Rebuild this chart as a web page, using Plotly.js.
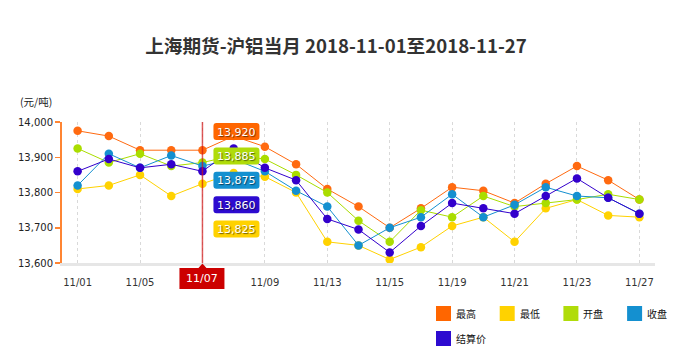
<!DOCTYPE html>
<html><head><meta charset="utf-8">
<script src="https://cdn.plot.ly/plotly-3.0.1.min.js"></script>
<style>html,body{margin:0;padding:0;background:#fff;} #chart{width:682px;height:356px;}</style>
</head><body><div id="chart"></div>
<script>
// ---------- data ----------
const dates = ['11/01','11/02','11/05','11/06','11/07','11/08','11/09','11/12','11/13','11/14',
               '11/15','11/16','11/19','11/20','11/21','11/22','11/23','11/26','11/27'];
const tickLabels = ['11/01','11/05','11/07','11/09','11/13','11/15','11/19','11/21','11/23','11/27'];
const seriesNames = ['最高','最低','开盘','收盘','结算价'];
const high   = [13975,13960,13920,13920,13920,13960,13930,13880,13810,13760,13700,13755,13815,13805,13770,13825,13875,13835,13780];
const low    = [13810,13820,13850,13790,13825,13855,13845,13800,13660,13650,13610,13645,13705,13730,13660,13755,13780,13735,13730];
const open   = [13925,13885,13910,13875,13885,13905,13895,13850,13800,13720,13660,13750,13730,13790,13760,13770,13780,13795,13780];
const close  = [13820,13910,13870,13905,13875,13895,13860,13805,13760,13650,13700,13730,13795,13730,13765,13815,13790,13785,13740];
const settle = [13860,13895,13870,13880,13860,13925,13870,13835,13725,13695,13630,13705,13770,13755,13740,13790,13840,13785,13740];
const yTicks = [13600,13700,13800,13900,14000];
const hoverIndex = 4;
const titleText = '上海期货-沪铝当月 2018-11-01至2018-11-27';
const unitLabel = '(元/吨)';

// ---------- styles ----------
const seriesData = [high, low, open, close, settle];
const lineColors = ['#FF6A10','#FFD200','#AADD00','#1490D0','#3300CC'];
const legendColors = ['#FF6600','#FFD200','#B0DC0A','#1490D0','#2D0BD0'];

const W=682,H=356,L=62,R=27,T=122,B=93;
const PW=W-L-R, PH=H-T-B;
const X = p => (p-L)/PW;
const Y = p => (H-B-p)/PH;
const fmt = v => v.toLocaleString('en-US');

function rrect(x0,y0,x1,y1,r){
  return `M ${X(x0+r)},${Y(y0)} L ${X(x1-r)},${Y(y0)} Q ${X(x1)},${Y(y0)} ${X(x1)},${Y(y0+r)} `+
         `L ${X(x1)},${Y(y1-r)} Q ${X(x1)},${Y(y1)} ${X(x1-r)},${Y(y1)} L ${X(x0+r)},${Y(y1)} `+
         `Q ${X(x0)},${Y(y1)} ${X(x0)},${Y(y1-r)} L ${X(x0)},${Y(y0+r)} Q ${X(x0)},${Y(y0)} ${X(x0+r)},${Y(y0)} Z`;
}

const traces = seriesData.map((d,i)=>({
  type:'scatter', mode:'lines+markers', name:seriesNames[i],
  x:dates, y:d, showlegend:false, cliponaxis:false,
  line:{color:lineColors[i], width:1},
  marker:{color:lineColors[i], size:8.5}
}));

const shapes = [];
const annotations = [];

// hover crosshair
const hx = L + (hoverIndex+0.5)/dates.length*PW;
shapes.push({type:'line', xref:'paper', yref:'paper', x0:X(hx), x1:X(hx), y0:0, y1:1,
  line:{color:'rgba(210,20,20,0.7)', width:1.5}});

// hover value labels, sorted by value
const order = seriesData.map((d,i)=>i).sort((a,b)=>seriesData[b][hoverIndex]-seriesData[a][hoverIndex]);
order.forEach((si,k)=>{
  const top = 123 + k*24.4, h=17;
  shapes.push({type:'path', xref:'paper', yref:'paper', path:rrect(hx+11, top, hx+57, top+h, 3),
    fillcolor:legendColors[si], line:{width:0}});
  annotations.push({xref:'paper', yref:'paper', x:X(hx+34), y:Y(top+h/2+0.5), xanchor:'center', yanchor:'middle',
    showarrow:false, text:fmt(seriesData[si][hoverIndex]),
    font:{family:'DejaVu Sans', size:11, color:'#ffffff', shadow:'1px 1px 1px rgba(0,0,0,0.55)'}});
});

// x hover label box with notch (covers the hovered tick label)
const bx0=hx-23, bx1=hx+22, by0=268, by1=289;
shapes.push({type:'path', xref:'paper', yref:'paper',
  path:`M ${X(bx0)},${Y(by0)} L ${X(hx-4)},${Y(by0)} L ${X(hx)},${Y(263.5)} L ${X(hx+4)},${Y(by0)} L ${X(bx1)},${Y(by0)} L ${X(bx1)},${Y(by1)} L ${X(bx0)},${Y(by1)} Z`,
  fillcolor:'#CC0000', line:{width:0}});
annotations.push({xref:'paper', yref:'paper', x:X((bx0+bx1)/2), y:Y(278.5), xanchor:'center', yanchor:'middle',
  showarrow:false, text:dates[hoverIndex], font:{family:'DejaVu Sans', size:11, color:'#ffffff'}});

// unit label
annotations.push({xref:'paper', yref:'paper', x:X(54), y:Y(101.5), xanchor:'right', yanchor:'middle',
  showarrow:false, text:unitLabel, font:{family:'Noto Sans CJK SC', size:10.5, color:'#222'}});

// legend
seriesNames.forEach((n,i)=>{
  const col=i%4, row=Math.floor(i/4);
  const sx = 436 + col*63.7, sy = 306 + row*25;
  shapes.push({type:'rect', xref:'paper', yref:'paper', x0:X(sx), x1:X(sx+15), y0:Y(sy), y1:Y(sy+15),
    fillcolor:legendColors[i], line:{width:0}});
  annotations.push({xref:'paper', yref:'paper', x:X(sx+18), y:Y(sy+7.5), xanchor:'left', yanchor:'middle',
    showarrow:false, text:n, font:{family:'Noto Sans CJK SC', size:10, color:'#111'}});
});

// tick text: hovered date is shown in the red box instead
const tickText = tickLabels.map(t => t === dates[hoverIndex] ? '' : t);

const layout = {
  width:W, height:H, margin:{l:L, r:R, t:T, b:B},
  paper_bgcolor:'#ffffff', plot_bgcolor:'#ffffff',
  showlegend:false,
  title:{text:'<b>'+titleText+'</b>', xref:'container', yref:'container', x:336/W, y:1-46/H,
    xanchor:'center', yanchor:'middle', font:{family:'Noto Sans CJK SC', size:18.6, color:'#333333'}},
  xaxis:{type:'category', range:[-0.5, dates.length-0.5], tickvals:tickLabels, ticktext:tickText,
    showgrid:true, gridcolor:'#d9d9d9', griddash:'dot', gridwidth:1,
    showline:true, linecolor:'#e6e6e6', linewidth:2.5, ticks:'', ticklabelstandoff:8,
    tickfont:{family:'DejaVu Sans', size:10, color:'#333'}, zeroline:false, fixedrange:true},
  yaxis:{range:[yTicks[0], yTicks[yTicks.length-1]], tickvals:yTicks, tickformat:',',
    showgrid:false, zeroline:false, showline:true, linecolor:'#FF8533', linewidth:2,
    ticks:'outside', ticklen:5, tickwidth:1.5, tickcolor:'#FF8533',
    tickfont:{family:'DejaVu Sans', size:10, color:'#222'}, fixedrange:true},
  shapes:shapes, annotations:annotations, hovermode:false
};

Plotly.newPlot('chart', traces, layout, {displayModeBar:false, staticPlot:true});
</script>
</body></html>
